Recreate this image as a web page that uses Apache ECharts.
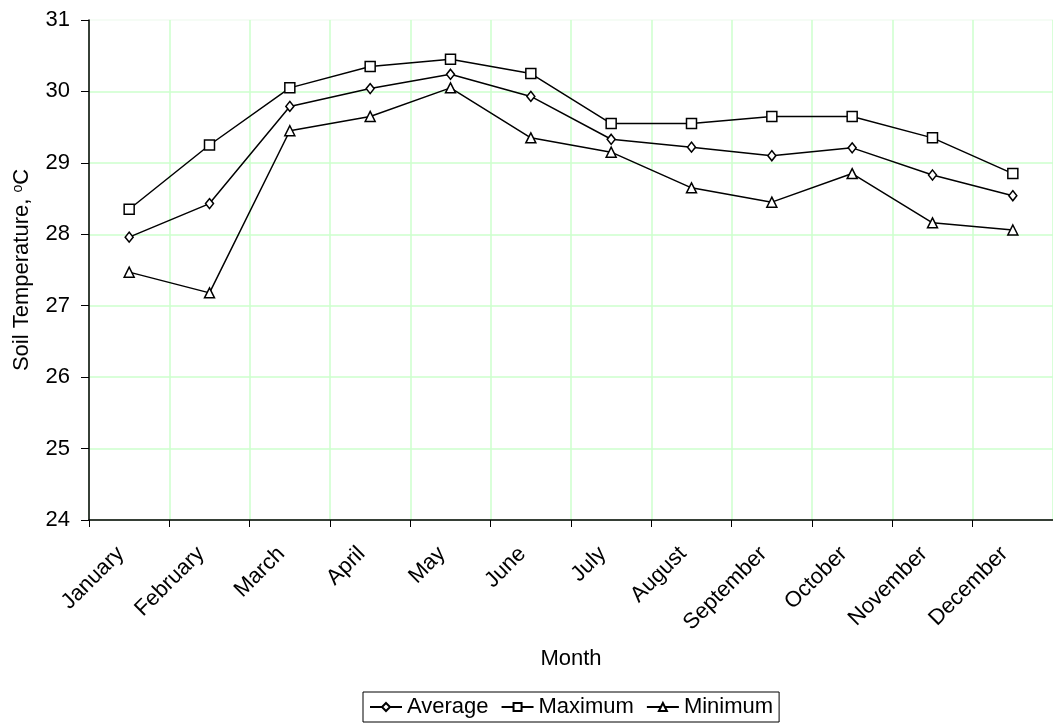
<!DOCTYPE html>
<html>
<head>
<meta charset="utf-8">
<style>
  html, body { margin: 0; padding: 0; background: #fff; }
  #chart { width: 1053px; height: 724px; }
</style>
<script src="https://cdn.jsdelivr.net/npm/echarts@6/dist/echarts.min.js"></script>
</head>
<body>
<div id="chart"></div>
<script>
// Monthly soil temperature (°C)
const months = ['January', 'February', 'March', 'April', 'May', 'June',
  'July', 'August', 'September', 'October', 'November', 'December'];
const averageTemp = [27.96, 28.43, 29.79, 30.04, 30.24, 29.93, 29.33, 29.22, 29.10, 29.21, 28.83, 28.54];
const maximumTemp = [28.35, 29.25, 30.05, 30.35, 30.45, 30.25, 29.55, 29.55, 29.65, 29.65, 29.35, 28.85];
const minimumTemp = [27.47, 27.18, 29.45, 29.65, 30.05, 29.35, 29.15, 28.65, 28.45, 28.85, 28.16, 28.06];
const yTicks = { min: 24, max: 31, interval: 1 };

const font = 'Liberation Sans, Arial, sans-serif';
const gridGreen = '#ccffcc';

function lineSeries(name, data, symbol, size) {
  return {
    name: name,
    type: 'line',
    data: data,
    symbol: symbol,
    symbolSize: size,
    showAllSymbol: true,
    lineStyle: { color: '#000', width: 1.5 },
    itemStyle: { color: '#fff', borderColor: '#000', borderWidth: 1.5 },
    emphasis: { disabled: true },
    z: 3
  };
}

const chart = echarts.init(document.getElementById('chart'), null, { renderer: 'canvas' });
chart.setOption({
  animation: false,
  backgroundColor: '#fff',
  textStyle: { fontFamily: font, color: '#000' },
  grid: { left: 89, top: 20, width: 968, height: 500, containLabel: false },
  xAxis: {
    type: 'category',
    data: months,
    boundaryGap: true,
    name: 'Month',
    nameLocation: 'middle',
    nameGap: 128,
    nameTextStyle: { fontSize: 22, fontFamily: font, color: '#000' },
    axisLine: { lineStyle: { color: '#000', width: 1.5 } },
    axisTick: { show: true, interval: 0, length: 7, lineStyle: { color: '#000' } },
    axisLabel: {
      interval: 0, rotate: 45, margin: 22, padding: [0, 12, 0, 0],
      fontSize: 22, fontFamily: font, color: '#000'
    },
    splitLine: { show: true, interval: 0, lineStyle: { color: gridGreen, width: 1.5 } }
  },
  yAxis: {
    type: 'value',
    min: yTicks.min,
    max: yTicks.max,
    interval: yTicks.interval,
    name: '{a|Soil Temperature, }{s|o}{a|C}',
    nameLocation: 'middle',
    nameGap: 56,
    nameTextStyle: {
      rich: {
        a: { fontSize: 22, fontFamily: font, color: '#000' },
        s: { fontSize: 14, fontFamily: font, color: '#000', verticalAlign: 'top', padding: [0, 0, 8, 0] }
      }
    },
    axisLine: { show: true, lineStyle: { color: '#000', width: 1.5 } },
    axisTick: { show: true, length: 8, lineStyle: { color: '#000' } },
    axisLabel: { margin: 19, fontSize: 22, fontFamily: font, color: '#000' },
    splitLine: {
      show: true,
      lineStyle: {
        color: [gridGreen, gridGreen, gridGreen, gridGreen, gridGreen, gridGreen, gridGreen, '#f2fbf2'],
        width: 1.5
      }
    }
  },
  legend: {
    left: 363,
    top: 692,
    orient: 'horizontal',
    padding: [4, 6, 4, 6],
    itemGap: 12,
    itemWidth: 32,
    itemHeight: 10,
    borderColor: '#000',
    borderWidth: 1,
    textStyle: { fontSize: 22, fontFamily: font, color: '#000' },
    data: ['Average', 'Maximum', 'Minimum']
  },
  series: [
    lineSeries('Average', averageTemp, 'diamond', [8, 10]),
    lineSeries('Maximum', maximumTemp, 'rect', 10),
    lineSeries('Minimum', minimumTemp, 'triangle', 10)
  ]
});
</script>
</body>
</html>
